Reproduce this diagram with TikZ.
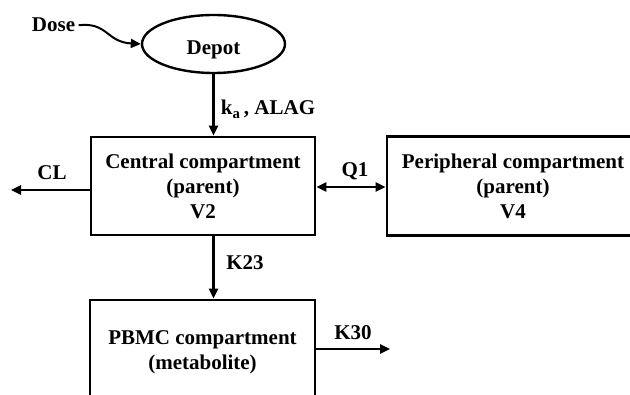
\documentclass[tikz,border=0pt]{standalone}
\usepackage{fontspec}
\setmainfont{Liberation Serif}
\usetikzlibrary{arrows.meta,shapes.geometric}

\tikzset{
  comp/.style={draw, line width=2.8pt, align=center, inner sep=0pt},
  flow/.style={->, line width=2.4pt},
  lbl/.style={anchor=base},
}

\begin{document}
\begin{tikzpicture}[x=1pt, y=-1pt, >={Triangle[length=10pt,width=9pt]},
    font=\fontsize{21}{25}\selectfont\bfseries]
  \useasboundingbox (0,0) rectangle (630,395);
  \clip (0,0) rectangle (630,395);

  % compartments
  \node[draw, ellipse, line width=2.4pt, minimum width=143pt, minimum height=58pt,
        text height=22pt, text depth=0pt] (depot) at (213.5,44) {Depot};
  \node[comp, minimum width=224pt, minimum height=98pt] (central) at (203,186)
    {Central compartment\\(parent)\\V2};
  \node[comp, minimum width=252pt, minimum height=99pt] (periph) at (513,186)
    {Peripheral compartment\\(parent)\\V4};
  \node[comp, minimum width=225pt, minimum height=104pt] (pbmc) at (202.5,352)
    {PBMC compartment\\(metabolite)};

  % dose input
  \node[lbl] (dose) at (53.5,32) {Dose};
  \draw[flow, line width=2pt] (dose.east) .. controls (108,22) and (106,42) .. (depot.west);

  % transfers
  \coordinate (clend) at (11,190);
  \coordinate (qline) at (350,187);
  \coordinate (kout) at (390,349);
  \draw[flow] (depot.south) -- (depot.south |- central.north);
  \draw[flow] (depot.south |- central.south) -- (depot.south |- pbmc.north);
  \draw[flow] (central.west |- clend) -- (clend);
  \draw[<->, line width=2.4pt] (central.east |- qline) -- (periph.west |- qline);
  \draw[flow] (pbmc.east |- kout) -- (kout);

  % rate labels
  \node[lbl] (kalbl) at (268,115) {k\textsubscript{a}\,, ALAG};
  \node[lbl] (cllbl) at (52,180) {CL};
  \node[lbl] (qlbl) at (355,177) {Q1};
  \node[lbl] (k23lbl) at (245,270) {K23};
  \node[lbl] (k30lbl) at (353,340) {K30};
\end{tikzpicture}
\end{document}
